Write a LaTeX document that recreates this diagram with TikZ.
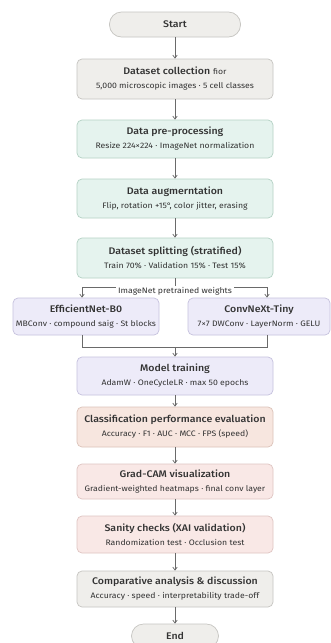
\documentclass[tikz,border=0pt]{standalone}
\usepackage{fontspec}
\setmainfont{Fira Sans}[BoldFont={Fira Sans Medium}, FakeStretch=1.1]
\usepackage{tikz}
\usetikzlibrary{arrows.meta}
\usetikzlibrary{positioning,calc}

\definecolor{greyfill}{HTML}{EFEEEB}
\definecolor{greyline}{HTML}{C6C5C1}
\definecolor{mintfill}{HTML}{E5F3EE}
\definecolor{mintline}{HTML}{B5D2C5}
\definecolor{lilacfill}{HTML}{EDEBF9}
\definecolor{lilacline}{HTML}{C6C2DE}
\definecolor{peachfill}{HTML}{F7E6DF}
\definecolor{peachline}{HTML}{DCC3B9}
\definecolor{rosefill}{HTML}{F9E8E6}
\definecolor{roseline}{HTML}{DFC5C2}
\definecolor{flowline}{HTML}{6A6A6A}
\definecolor{inktext}{HTML}{333333}

\newcommand{\ttl}[1]{{\fontsize{9.6}{11}\selectfont\bfseries #1}}
\newcommand{\sub}[1]{{\fontsize{7.9}{9}\selectfont #1}}

\begin{document}
\begin{tikzpicture} [x=1pt, y=-1pt,
      nodes={text=inktext, align=center, inner sep=0pt},
      stepbox/.style={draw, rounded corners=5pt, line width=0.7pt,
          minimum width=196pt, minimum height=39pt},
      greybox/.style={stepbox, fill=greyfill, draw=greyline},
      mintbox/.style={stepbox, fill=mintfill, draw=mintline},
      lilacbox/.style={stepbox, fill=lilacfill, draw=lilacline},
      peachbox/.style={stepbox, fill=peachfill, draw=peachline},
      rosebox/.style={stepbox, fill=rosefill, draw=roseline},
      terminal/.style={draw=greyline, fill=greyfill, line width=0.7pt,
          rounded corners=12pt, minimum height=25pt},
      flow/.style={draw=flowline, line width=0.7pt},
      arr/.style={flow, -{Straight Barb[length=3pt, width=4.5pt]}}]

      \fill[white] (0,0) rectangle (331,643);
      \useasboundingbox (0,0) rectangle (331,643);

      % main column
      \node[terminal, minimum width=131pt] (start) at (175,24.5) {\ttl{Start}};
      \node[greybox, minimum height=40pt] (collect) at (175,79)
          {\ttl{Dataset collection} \sub{fior}\\[2pt]\sub{5,000 microscopic images · 5 cell classes}};
      \node[mintbox, minimum height=38pt] (prep) at (175,139)
          {\ttl{Data pre-processing}\\[2pt]\sub{Resize 224×224 · ImageNet normalization}};
      \node[mintbox] (augment) at (175,198.5)
          {\ttl{Data augmerntation}\\[2pt]\sub{Flip, rotation +15°, color jitter, erasing}};
      \node[mintbox, minimum height=40pt] (split) at (175,258)
          {\ttl{Dataset splitting (stratified)}\\[2pt]\sub{Train 70\% · Validation 15\% · Test 15\%}};

      % two backbones
      \node[lilacbox, minimum width=146pt, minimum height=37pt] (effnet) at (86,316.5)
          {\ttl{EfficientNet-B0}\\[2pt]\sub{MBConv · compound saig · St blocks}};
      \node[lilacbox, minimum width=142pt, minimum height=37pt] (convnext) at (259,316.5)
          {\ttl{ConvNeXt-Tiny}\\[2pt]\sub{7×7 DWConv · LayerNorm · GELU}};

      \node[lilacbox, minimum height=38pt] (train) at (175,376)
          {\ttl{Model training}\\[2pt]\sub{AdamW · OneCycleLR · max 50 epochs}};
      \node[peachbox, minimum height=40pt] (evaluate) at (175,427)
          {\ttl{Classification performance evaluation}\\[2pt]\sub{Accuracy · F1 · AUC · MCC · FPS (speed)}};
      \node[rosebox, minimum height=35pt] (gradcam) at (175,481.5)
          {\ttl{Grad-CAM visualization}\\[2pt]\sub{Gradient-weighted heatmaps · final conv layer}};
      \node[rosebox, minimum height=37pt] (sanity) at (175,534.5)
          {\ttl{Sanity checks (XAI validation)}\\[2pt]\sub{Randomization test · Occlusion test}};
      \node[greybox, minimum height=36pt] (compare) at (175,589)
          {\ttl{Comparative analysis \& discussion}\\[2pt]\sub{Accuracy · speed · interpretability trade-off}};
      \node[terminal, minimum width=87pt, minimum height=24pt] (end) at (175,636) {\ttl{End}};

      % branch and merge points
      \coordinate (fork) at (175,287);
      \coordinate (forkL) at (82,287);
      \coordinate (forkR) at (267,287);
      \coordinate (joinL) at (82,347);
      \coordinate (joinR) at (267,347);
      \coordinate (join) at (175,347);

      \draw[arr] (start) -- (collect);
      \draw[arr] (collect) -- (prep);
      \draw[arr] (prep) -- (augment);
      \draw[arr] (augment) -- (split);

      \draw[flow] (split) -- (fork);
      \draw[flow] (forkL) -- (forkR);
      \draw[arr] (forkL) -- (forkL |- effnet.north);
      \draw[arr] (forkR) -- (forkR |- convnext.north);
      \node[fill=white, inner xsep=2pt, inner ysep=1pt] (weights) at (175,291)
          {\sub{ImageNet pretrained weights}};

      \draw[flow] (joinL |- effnet.south) -- (joinL) -- (joinR) -- (joinR |- convnext.south);
      \draw[arr] (join) -- (train);

      \draw[arr] (train) -- (evaluate);
      \draw[arr] (evaluate) -- (gradcam);
      \draw[arr] (gradcam) -- (sanity);
      \draw[arr] (sanity) -- (compare);
      \draw[arr] (compare) -- (end);
\end{tikzpicture}
\end{document}
